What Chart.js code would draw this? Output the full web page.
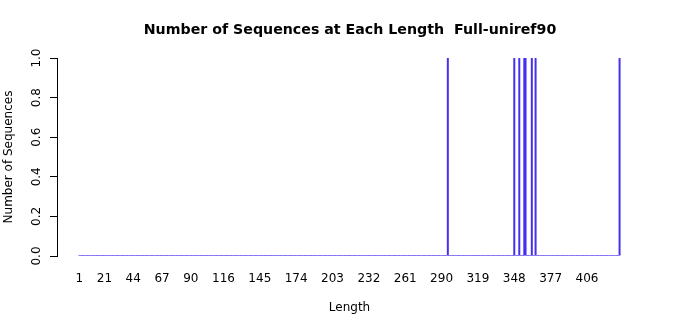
<!DOCTYPE html>
<html>
<head>
<meta charset="utf-8">
<script src="https://cdn.jsdelivr.net/npm/chart.js@4/dist/chart.umd.min.js"></script>
<style>
  html, body { margin: 0; padding: 0; background: #fff; }
  #wrap { width: 700px; height: 315px; }
</style>
</head>
<body>
<div id="wrap"><canvas id="chart" width="700" height="315"></canvas></div>
<script>
// sequence lengths run from 1 to maxLength, only a few have a sequence
const maxLength = 432;
const seenLengths = [295, 348, 352, 356, 357, 362, 365, 432];
const seenCounts = [1, 1, 1, 1, 1, 1, 1, 1];
const xTickLabels = [1, 21, 44, 67, 90, 116, 145, 174, 203, 232, 261, 290, 319, 348, 377, 406];
const yTickLabels = [0, 0.2, 0.4, 0.6, 0.8, 1.0];

// full table of counts, zero where no sequence has that length
const lengths = [];
const counts = [];
for (let len = 1; len <= maxLength; len++) {
    lengths.push(len);
    const k = seenLengths.indexOf(len);
    counts.push(k >= 0 ? seenCounts[k] : 0);
}

Chart.defaults.font.family = "'DejaVu Sans', sans-serif";
Chart.defaults.color = '#000';

const ctx = document.getElementById('chart').getContext('2d');
const myChart = new Chart(ctx, {
    type: 'bar',
    data: {
        datasets: [{
            label: 'Sequences',
            data: lengths.map((len, i) => ({x: len, y: counts[i]})),
            backgroundColor: '#4630f0',
            borderWidth: 0,
            inflateAmount: 0,
            barThickness: 2,
            // zero-height bars still show as a thin baseline, like R's barplot
            minBarLength: 1
        }]
    },
    options: {
        responsive: false,
        animation: false,
        layout: { padding: 0 },
        plugins: {
            legend: { display: false },
            tooltip: { enabled: false },
            title: {
                display: true,
                text: 'Number of Sequences at Each Length  Full-uniref90',
                font: { size: 14.2, weight: 'bold' },
                color: '#000',
                padding: { top: 22, bottom: 19 }
            }
        },
        scales: {
            x: {
                type: 'linear',
                offset: false,
                min: -16.8,
                max: 449.9,
                grid: { display: false, drawTicks: false },
                border: { display: false },
                afterBuildTicks: function(scale) {
                    scale.ticks = xTickLabels.map(v => ({value: v}));
                },
                afterFit: function(scale) { scale.height = 59; },
                ticks: {
                    autoSkip: false,
                    maxRotation: 0,
                    padding: 16,
                    font: { size: 12 },
                    callback: function(value) { return String(value); }
                },
                title: {
                    display: true,
                    text: 'Length',
                    font: { size: 12 },
                    padding: { top: 0, bottom: 0 }
                }
            },
            y: {
                min: 0,
                max: 1,
                afterBuildTicks: function(scale) {
                    scale.ticks = yTickLabels.map(v => ({value: v}));
                },
                afterFit: function(scale) { scale.width = 57; },
                grid: {
                    drawOnChartArea: false,
                    drawTicks: true,
                    tickLength: 7,
                    color: '#000',
                    lineWidth: 1
                },
                border: { display: true, color: '#000', width: 1 },
                ticks: {
                    minRotation: 90,
                    maxRotation: 90,
                    crossAlign: 'center',
                    padding: 4,
                    font: { size: 12 },
                    callback: function(value) { return value.toFixed(1); }
                },
                title: {
                    display: true,
                    text: 'Number of Sequences',
                    font: { size: 12 },
                    padding: { top: 2, bottom: 0 }
                }
            },
            // empty right margin, keeps the plot the same width as the original
            yRight: {
                position: 'right',
                display: true,
                grid: { display: false, drawTicks: false },
                border: { display: false },
                ticks: { display: false },
                afterFit: function(scale) { scale.width = 58; }
            }
        }
    }
});
</script>
</body>
</html>
